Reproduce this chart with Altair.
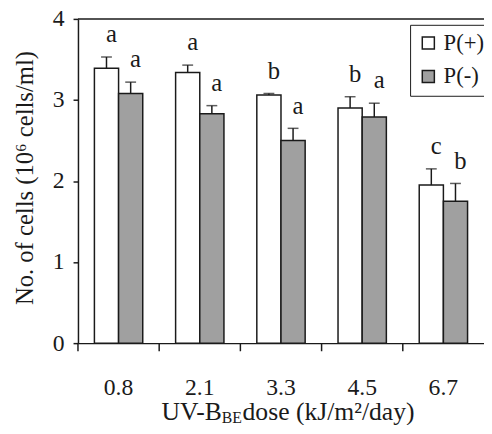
import altair as alt
import pandas as pd

doses = ["0.8", "2.1", "3.3", "4.5", "6.7"]
series = ["P(+)", "P(-)"]
p_plus = [3.39, 3.34, 3.06, 2.90, 1.95]
p_plus_err = [0.14, 0.09, 0.02, 0.14, 0.20]
p_minus = [3.08, 2.83, 2.50, 2.79, 1.75]
p_minus_err = [0.14, 0.10, 0.15, 0.17, 0.22]
p_plus_letters = ["a", "a", "b", "b", "c"]
p_minus_letters = ["a", "a", "a", "a", "b"]
y_ticks = [0, 1, 2, 3, 4]

rows = []
for i, d in enumerate(doses):
    rows.append({"dose": d, "series": series[0], "mean": p_plus[i],
                 "top": p_plus[i] + p_plus_err[i], "letter": p_plus_letters[i]})
    rows.append({"dose": d, "series": series[1], "mean": p_minus[i],
                 "top": p_minus[i] + p_minus_err[i], "letter": p_minus_letters[i]})
df = pd.DataFrame(rows)

FONT = "Liberation Serif"
INK = "#1a1a1a"
W, H = 412, 329

x = alt.X("dose:N", sort=doses, scale=alt.Scale(paddingInner=0, paddingOuter=0),
          axis=alt.Axis(title=None, ticks=False, labelPadding=33, labelAngle=0))
xo = alt.XOffset("series:N", sort=series, scale=alt.Scale(paddingInner=0, paddingOuter=0.68))
y = alt.Y("mean:Q", scale=alt.Scale(domain=[0, 4], nice=False),
          axis=alt.Axis(values=y_ticks, title="No. of cells (10⁶ cells/ml)", tickSize=5,
                        labelPadding=9, grid=False, format="d",
                        titleX=-54, titleY=161, titleBaseline="middle",
                        titleFontSize=25))

base = alt.Chart(df)

bars = base.mark_bar(stroke=INK, strokeWidth=1.5).encode(
    x=x, xOffset=xo, y=y,
    color=alt.Color("series:N", sort=series,
                    scale=alt.Scale(domain=series, range=["#ffffff", "#a0a0a0"]),
                    legend=alt.Legend(title=None, orient="none", legendX=337, legendY=6,
                                      symbolType="square", symbolSize=150,
                                      symbolStrokeColor=INK, symbolStrokeWidth=1.5,
                                      labelFont=FONT, labelFontSize=23, labelColor=INK,
                                      rowPadding=10, labelOffset=4, padding=7,
                                      strokeColor=INK, fillColor="white")),
)
whisk = base.mark_rule(color=INK, strokeWidth=1.5).encode(
    x=x, xOffset=xo, y="mean:Q", y2="top:Q")
caps = base.mark_tick(color=INK, thickness=1.5, size=11, orient="horizontal").encode(
    x=x, xOffset=xo, y="top:Q")
letters = base.mark_text(font=FONT, fontSize=25, color=INK, dy=-15, dx=5,
                         baseline="alphabetic").encode(
    x=x, xOffset=xo, y="top:Q", text="letter:N")
frame_top = alt.Chart(pd.DataFrame({"v": [4]})).mark_rule(color=INK, strokeWidth=1.5).encode(
    y=alt.Y("v:Q"))

# x-axis ticks at the boundaries between dose groups
tick_df = pd.DataFrame({"dose": doses, "y0": [0.0] * 5, "y1": [-0.1] * 5})
xticks = alt.Chart(tick_df).mark_rule(color=INK, strokeWidth=1.5).encode(
    x=alt.X("dose:N", sort=doses, bandPosition=0),
    y=alt.Y("y0:Q"), y2="y1:Q")

t1 = alt.Chart(pd.DataFrame({"t": ["UV-B"]})).mark_text(
    font=FONT, fontSize=26, color=INK, align="right", baseline="alphabetic").encode(
    x=alt.value(146), y=alt.value(407), text="t:N")
t2 = alt.Chart(pd.DataFrame({"t": ["BE"]})).mark_text(
    font=FONT, fontSize=16, color=INK, align="left", baseline="alphabetic").encode(
    x=alt.value(146), y=alt.value(410), text="t:N")
t3 = alt.Chart(pd.DataFrame({"t": ["dose (kJ/m²/day)"]})).mark_text(
    font=FONT, fontSize=26, color=INK, align="left", baseline="alphabetic").encode(
    x=alt.value(167), y=alt.value(407), text="t:N")

chart = alt.layer(bars, whisk, caps, letters, frame_top, xticks, t1, t2, t3).properties(
    width=W, height=H,
    autosize=alt.AutoSizeParams(type="none"),
    padding={"left": 71, "top": 8, "right": 0, "bottom": 80},
).configure_view(strokeWidth=0).configure_axis(
    domainColor=INK, domainWidth=1.5, tickColor=INK, tickWidth=1.5,
    labelFont=FONT, labelFontSize=24, labelColor=INK,
    titleFont=FONT, titleFontSize=26, titleColor=INK, titleFontWeight="normal",
)

chart.save("out.html", embed_options={"renderer": "svg", "actions": False})
